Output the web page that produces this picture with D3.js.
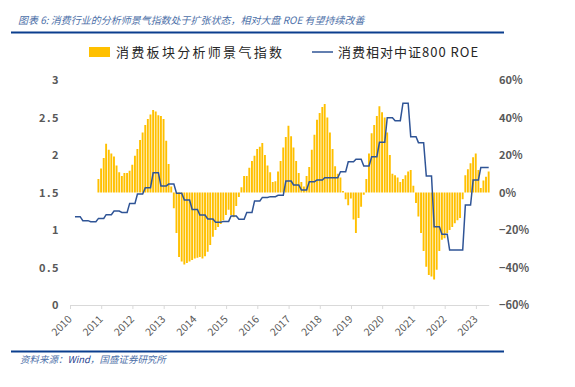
<!DOCTYPE html>
<html>
<head>
<meta charset="utf-8">
<script src="https://cdn.jsdelivr.net/npm/d3@7"></script>
<style>
  body { margin: 0; background: #fff; }
  text { font-family: "Noto Sans CJK SC", "Noto Sans", sans-serif; }
</style>
</head>
<body>
<div id="chart"></div>
<script>
// monthly analyst sentiment index, first month 2010-11
var barStart = "2010-11";
var barValues = [
  1.68, 1.82,                                                             // 2010
  1.96, 2.15, 2.07, 2.02, 1.98, 1.86, 1.77, 1.72, 1.76, 1.76, 1.79, 1.87, // 2011
  1.99, 2.08, 2.20, 2.30, 2.40, 2.48, 2.54, 2.60, 2.58, 2.53, 2.52, 2.48, // 2012
  2.19, 1.88, 1.58, 1.29, 0.96, 0.64, 0.58, 0.54, 0.56, 0.58, 0.60, 0.62, // 2013
  0.63, 0.64, 0.62, 0.65, 0.71, 0.80, 0.91, 1.00, 1.04, 1.08, 1.13, 1.20, // 2014
  1.27, 1.20, 1.17, 1.32, 1.44, 1.57, 1.72, 1.72, 1.83, 1.92, 1.99, 2.08, // 2015
  2.11, 2.16, 2.00, 1.86, 1.77, 1.64, 1.65, 1.78, 1.92, 2.10, 2.24, 2.39, // 2016
  2.25, 2.10, 1.92, 1.76, 1.64, 1.58, 1.72, 1.84, 2.07, 2.27, 2.47, 2.56, // 2017
  2.64, 2.68, 2.50, 2.30, 2.08, 1.85, 1.75, 1.70, 1.52, 1.41, 1.33, 1.42, // 2018
  1.14, 0.96, 1.16, 1.31, 1.47, 1.68, 2.02, 2.29, 2.40, 2.52, 2.65, 2.57, // 2019
  2.50, 2.30, 2.00, 1.75, 1.73, 1.70, 1.64, 1.68, 1.73, 1.78, 1.80, 1.59, // 2020
  1.36, 1.18, 0.96, 0.72, 0.51, 0.40, 0.38, 0.34, 0.47, 0.72, 0.87, 0.89, // 2021
  0.96, 1.00, 1.04, 1.09, 1.13, 1.16, 1.41, 1.73, 1.81, 1.89, 1.97, 2.02, // 2022
  1.80, 1.56, 1.66, 1.71, 1.78                                            // 2023
];

// relative ROE (%), one value per reporting window (Feb/May/Aug/Nov), first window 2010-02
var roeStart = "2010-02";
var roeValues = [
  -12.9, -15.0, -15.6, -13.8,   // 2010
  -11.8, -9.9, -10.6, -5.8,     // 2011
  -0.8, 2.6, 10.6, 3.5,         // 2012
  4.5, -0.4, -4.0, -9.0,        // 2013
  -12.0, -14.1, -15.9, -15.4,   // 2014
  -12.5, -14.3, -10.6, -4.5,    // 2015
  -2.6, -2.2, -1.5, 6.1,        // 2016
  4.0, 1.3, 5.8, 6.7,           // 2017
  7.9, 7.9, 11.1, 16.4,         // 2018
  17.7, 14.1, 19.1, 26.8,       // 2019
  39.9, 38.3, 47.6, 29.8,       // 2020
  26.6, 8.8, -18.2, -22.3,      // 2021
  -30.7, -30.7, -6.7, 6.7,      // 2022
  13.4, 13.4                    // 2023
];

var leftTicks = [0, 0.5, 1, 1.5, 2, 2.5, 3];
var rightTicks = [-60, -40, -20, 0, 20, 40, 60];
var legendNames = ["消费板块分析师景气指数", "消费相对中证800 ROE"];

var width = 575, height = 387;
var barColor = "#FFC000", lineColor = "#2F5496", ruleColor = "#0B3E8E";

var svg = d3.select("#chart").append("svg")
  .attr("width", width)
  .attr("height", height);

// header / footer (CJK font has no italic, so slant it by hand)
svg.append("text")
  .attr("transform", "translate(18,24) skewX(-14)")
  .attr("font-size", 10)
  .attr("fill", "#4C6FA8")
  .text("图表 6: 消费行业的分析师景气指数处于扩张状态，相对大盘 ROE 有望持续改善");
svg.append("line").attr("x1", 11).attr("x2", 504).attr("y1", 32.5).attr("y2", 32.5)
  .attr("stroke", ruleColor).attr("stroke-width", 1.8);
svg.append("line").attr("x1", 11).attr("x2", 504).attr("y1", 351.5).attr("y2", 351.5)
  .attr("stroke", ruleColor).attr("stroke-width", 1.8);
var foot = svg.append("text")
  .attr("transform", "translate(20,363) skewX(-14)")
  .attr("font-size", 9.5)
  .attr("fill", "#4C6FA8");
foot.append("tspan").text("资料来源：");
foot.append("tspan").attr("fill", "#1F3F8F").text("Wind");
foot.append("tspan").text("，国盛证券研究所");

var parseMonth = d3.timeParse("%Y-%m");
function monthEnd(d) { return new Date(d.getFullYear(), d.getMonth() + 1, 0); }

var x = d3.scaleTime()
  .domain([new Date(2010, 0, 1), new Date(2023, 4, 31)])
  .range([70, 488.7]);
var yL = d3.scaleLinear().domain([0, 3]).range([305, 80]);
var yR = d3.scaleLinear().domain([-60, 60]).range([305, 80]);

var b0 = parseMonth(barStart);
var bars = barValues.map(function(v, i) {
  return { date: monthEnd(d3.timeMonth.offset(b0, i)), value: v };
});

var r0 = parseMonth(roeStart);
var lastDate = x.domain()[1];
var roePts = [];
roeValues.forEach(function(v, i) {
  var s = monthEnd(d3.timeMonth.offset(r0, i * 3));
  var e = monthEnd(d3.timeMonth.offset(r0, i * 3 + 2));
  roePts.push({ date: s, value: v });
  if (e <= lastDate) roePts.push({ date: e, value: v });
});

// bars around the 1.5 line
svg.append("g").selectAll("rect")
  .data(bars)
  .enter()
  .append("rect")
  .attr("x", function(d) { return x(d.date) - 1; })
  .attr("width", 1.9)
  .attr("y", function(d) { return Math.min(yL(d.value), yL(1.5)); })
  .attr("height", function(d) { return Math.abs(yL(d.value) - yL(1.5)); })
  .attr("fill", barColor);

var line = d3.line()
  .x(function(d) { return x(d.date); })
  .y(function(d) { return yR(d.value); });

svg.append("path")
  .datum(roePts)
  .attr("d", line)
  .attr("fill", "none")
  .attr("stroke", lineColor)
  .attr("stroke-width", 1.5);

// axes
var xAxis = svg.append("g")
  .attr("transform", "translate(0,305)")
  .call(d3.axisBottom(x).ticks(d3.timeYear.every(1)).tickFormat(d3.timeFormat("%Y")).tickSize(4).tickSizeOuter(0));
xAxis.select(".domain").attr("stroke", "#D9D9D9");
xAxis.selectAll(".tick line").attr("stroke", "#D9D9D9");
xAxis.selectAll("text")
  .attr("x", 0).attr("y", 0).attr("dy", 0)
  .attr("transform", "translate(2,15) rotate(-45)")
  .attr("text-anchor", "end")
  .attr("font-size", 10.5)
  .attr("fill", "#595959");

var yAxisL = svg.append("g")
  .attr("transform", "translate(70,0)")
  .call(d3.axisLeft(yL).tickValues(leftTicks).tickSize(0).tickPadding(10).tickFormat(d3.format("")));
yAxisL.select(".domain").remove();
yAxisL.selectAll("text")
  .attr("font-size", 11).attr("font-weight", "bold")
  .attr("letter-spacing", 1.5)
  .attr("fill", "#595959");

var yAxisR = svg.append("g")
  .attr("transform", "translate(489,0)")
  .call(d3.axisRight(yR).tickValues(rightTicks).tickSize(0).tickPadding(10)
    .tickFormat(function(d) { return (d < 0 ? "−" + (-d) : d) + "%"; }));
yAxisR.select(".domain").remove();
yAxisR.selectAll("text")
  .attr("font-size", 11).attr("font-weight", "bold")
  .attr("fill", "#595959");

// legend
var lg = svg.append("g");
lg.append("rect").attr("x", 89).attr("y", 47).attr("width", 21).attr("height", 10).attr("fill", barColor);
lg.append("text").attr("x", 116).attr("y", 57).attr("font-size", 13)
  .attr("letter-spacing", 2.3).attr("fill", "#262626").text(legendNames[0]);
lg.append("line").attr("x1", 312).attr("x2", 333).attr("y1", 52).attr("y2", 52)
  .attr("stroke", lineColor).attr("stroke-width", 1.5);
lg.append("text").attr("x", 338).attr("y", 57).attr("font-size", 13)
  .attr("letter-spacing", 1).attr("fill", "#262626").text(legendNames[1]);
</script>
</body>
</html>
